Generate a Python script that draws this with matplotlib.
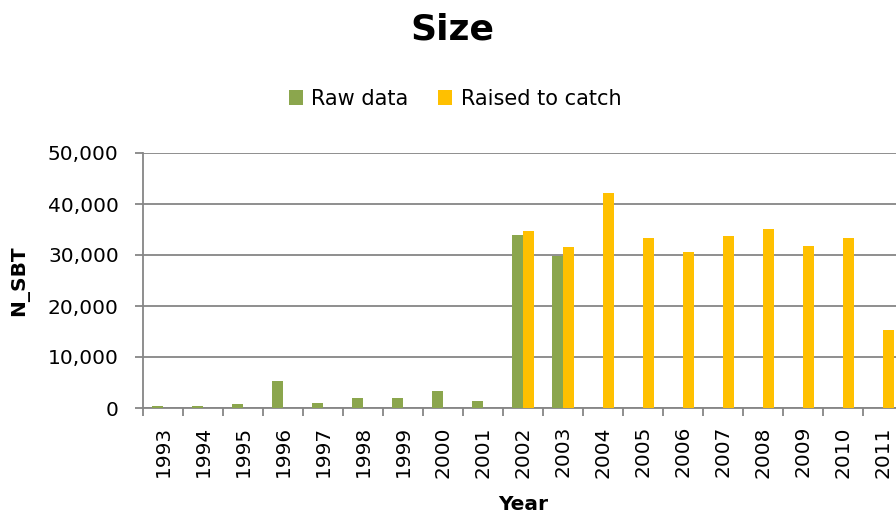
import numpy as np
import matplotlib
matplotlib.use("Agg")
import matplotlib.pyplot as plt
from matplotlib.ticker import FuncFormatter, FixedLocator

years = [str(y) for y in range(1993, 2012)]
raw_data = [300, 450, 850, 5300, 1000, 2000, 1900, 3300, 1400, 34000, 29800,
            0, 0, 0, 0, 0, 0, 0, 0]
raised = [0, 0, 0, 0, 0, 0, 0, 0, 0, 34800, 31500,
          42200, 33300, 30600, 33700, 35100, 31700, 33400, 15200]

GREEN = "#8BA64D"
YELLOW = "#FFC000"
GRAY = "#868686"

plt.rcParams["font.family"] = ["DejaVu Sans"]

fig = plt.figure(figsize=(8.96, 5.21), dpi=100)
# axes run a bit past the right edge, like the cropped original
ax = fig.add_axes([143 / 896, 113 / 521, 760 / 896, 255 / 521])

x = np.arange(len(years))
w = 0.28
ax.bar(x - w / 2, raw_data, w, color=GREEN, label="Raw data", zorder=3)
ax.bar(x + w / 2, raised, w, color=YELLOW, label="Raised to catch", zorder=3)

ax.set_xlim(-0.5, len(years) - 0.5)
ax.set_ylim(0, 50000)
ax.set_yticks(range(0, 50001, 10000))
ax.yaxis.set_major_formatter(FuncFormatter(lambda v, p: f"{int(v):,}"))
ax.grid(axis="y", color=GRAY, linewidth=1.3, zorder=0)

ax.set_xticks(x)
ax.set_xticklabels(years, rotation=90, fontsize=14.5)
ax.xaxis.set_minor_locator(FixedLocator(np.arange(-0.5, len(years), 1)))
ax.tick_params(axis="x", which="major", length=0, pad=13)
ax.tick_params(axis="x", which="minor", length=5.5, width=1.3, color=GRAY)
ax.tick_params(axis="y", length=5.5, width=1.3, color=GRAY, labelsize=14.5, pad=12)

for s in ["top", "right"]:
    ax.spines[s].set_visible(False)
for s in ["left", "bottom"]:
    ax.spines[s].set_color(GRAY)
    ax.spines[s].set_linewidth(1.3)

fig.text(20 / 896, 1 - 281 / 521, "N_SBT", ha="center", va="center",
         rotation=90, fontsize=14.5, fontweight="bold")
fig.text(523 / 896, 16 / 521, "Year", ha="center", va="center",
         fontsize=14.5, fontweight="bold")
fig.text(452 / 896, 1 - 30 / 521, "Size", ha="center", va="center",
         fontsize=26, fontweight="bold")

fig.legend(loc="center", bbox_to_anchor=(455 / 896, 1 - 99 / 521), ncol=2,
           frameon=False, fontsize=15, handlelength=0.7, handleheight=0.7,
           handletextpad=0.4, columnspacing=1.4, borderpad=0)

fig.savefig("out.png", dpi=100)
